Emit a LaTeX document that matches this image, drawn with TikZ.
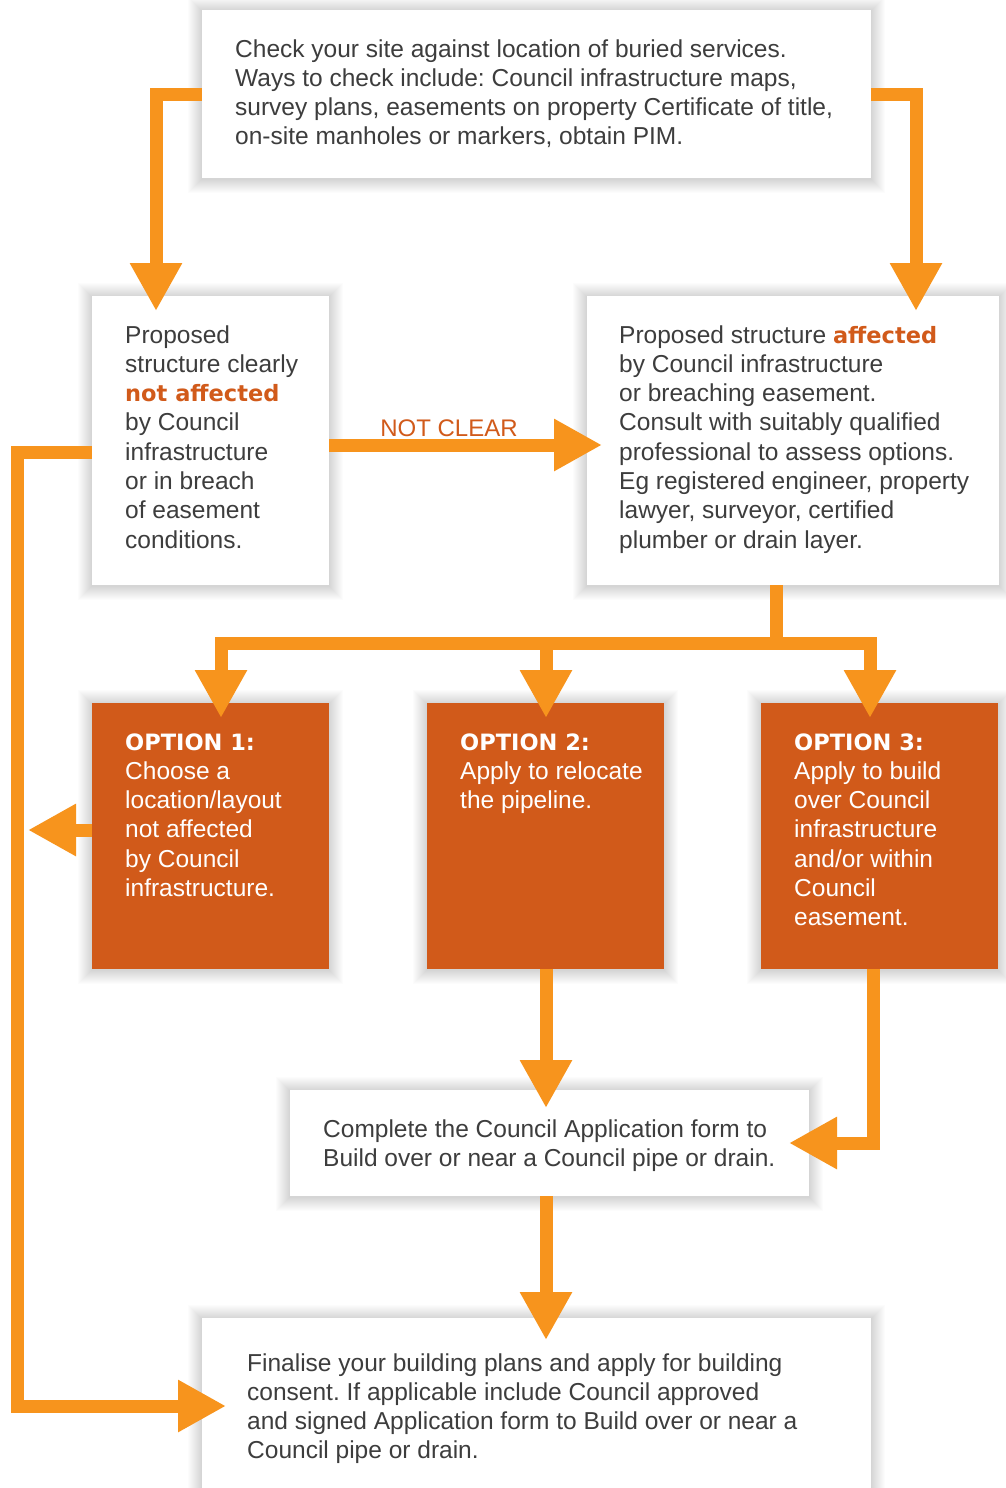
\documentclass[tikz,border=0pt]{standalone}
\usepackage{fontspec}
\setmainfont{Liberation Sans}
\newfontfamily\heavyfont{DejaVu Sans}
\usetikzlibrary{arrows.meta,fit}
\definecolor{arrowor}{HTML}{F7941D}
\definecolor{boxor}{HTML}{D15A1A}
\definecolor{txtgray}{HTML}{3D3D3D}
\frenchspacing
\newcommand\bodyfont{\fontsize{24.5}{29.3}\selectfont}
\newcommand\hv[1]{{\heavyfont\bfseries\fontsize{22.5}{29.3}\selectfont #1}}
\newcommand\shadowrect[4]{\foreach \k in {1,...,14}{\fill[black,opacity=0.011] ({#1-\k},{#2-\k+1}) rectangle ({#3+\k},{#4+\k+1});}}
\begin{document}
\begin{tikzpicture}[x=1pt,y=-1pt,
  wbox/.style={fill=white,inner sep=0pt,draw=none},
  obox/.style={fill=boxor,inner sep=0pt,draw=none},
  txt/.style={anchor=base west,align=left,inner sep=0pt,text=txtgray,font=\bodyfont},
  otxt/.style={txt,text=white},
  arr/.style={draw=arrowor,line width=13pt,-{Triangle[length=48pt,width=49pt]}},
  seg/.style={draw=arrowor,line width=13pt},
]
\useasboundingbox[fill=white] (0,0) rectangle (1006,1488);

% boxes
\shadowrect{202}{10}{871}{178}
\node[wbox,fit={(202,10)(871,178)}] (A) {};
\shadowrect{92}{296}{329}{585}
\node[wbox,fit={(92,296)(329,585)}] (B) {};
\shadowrect{587}{296}{999}{585}
\node[wbox,fit={(587,296)(999,585)}] (C) {};
\shadowrect{92}{703}{329}{969}
\node[obox,fit={(92,703)(329,969)}] (O1) {};
\shadowrect{427}{703}{664}{969}
\node[obox,fit={(427,703)(664,969)}] (O2) {};
\shadowrect{761}{703}{998}{969}
\node[obox,fit={(761,703)(998,969)}] (O3) {};
\shadowrect{290}{1090}{809}{1196}
\node[wbox,fit={(290,1090)(809,1196)}] (D) {};
\shadowrect{202}{1318}{871}{1510}
\node[wbox,fit={(202,1318)(871,1510)}] (E) {};

% texts (base anchor = baseline of last line)
\node[txt] (At) at (235,144.9) {Check your site against location of buried services.\\Ways to check include: Council infrastructure maps,\\survey plans, easements on property Certificate of title,\\on-site manholes or markers, obtain PIM.};
\node[txt] (Bt) at (125,548.1) {Proposed\\structure clearly\\\textcolor{boxor}{\hv{not affected}}\\by Council\\infrastructure\\or in breach\\of easement\\conditions.};
\node[txt] (Ct) at (619,548.1) {Proposed structure \textcolor{boxor}{\hv{affected}}\\by Council infrastructure\\or breaching easement.\\Consult with suitably qualified\\professional to assess options.\\Eg registered engineer, property\\lawyer, surveyor, certified\\plumber or drain layer.};
\node[otxt] (O1t) at (125,896.5) {\hv{OPTION 1:}\\Choose a\\location/layout\\not affected\\by Council\\infrastructure.};
\node[otxt] (O2t) at (460,808.6) {\hv{OPTION 2:}\\Apply to relocate\\the pipeline.};
\node[otxt] (O3t) at (794,925.8) {\hv{OPTION 3:}\\Apply to build\\over Council\\infrastructure\\and/or within\\Council\\easement.};
\node[txt] (Dt) at (323,1166.3) {Complete the Council Application form to\\Build over or near a Council pipe or drain.};
\node[txt] (Et) at (247,1458.9) {Finalise your building plans and apply for building\\consent. If applicable include Council approved\\and signed Application form to Build over or near a\\Council pipe or drain.};

% connector end points
\coordinate (tB) at (156,311);
\coordinate (tC) at (916,311);
\coordinate (tNC) at (602,445);
\coordinate (split) at (776,643);
\coordinate (t1) at (221,718);
\coordinate (t2) at (546,718);
\coordinate (t3) at (870,718);
\coordinate (tL) at (28,830);
\coordinate (tD2) at (546,1108);
\coordinate (tD3) at (789,1143);
\coordinate (tE) at (546,1340);
\coordinate (tEL) at (226,1406);

% connectors
\draw[arr] (A.west |- 0,94) -| (tB);
\draw[arr] (A.east |- 0,94) -| (tC);
\draw[arr] (B.east |- tNC) -- (tNC);
\node[anchor=base,inner sep=0pt,text=boxor,font=\fontsize{24}{29}\selectfont] (nc) at (449,436) {NOT CLEAR};
\draw[seg] (C.south -| split) -- ([yshift=-6.5pt]split);
\draw[arr] (split) -| (t1);
\draw[arr] (split) -| (t3);
\draw[arr] (t2 |- split) -- (t2);
\draw[arr] (O1.west |- tL) -- (tL);
\draw[arr] (B.west |- 0,452) -- (17,452) |- (tEL);
\draw[arr] (O2.south -| tD2) -- (tD2);
\draw[arr] (O3.south -| 873,0) |- (tD3);
\draw[arr] (D.south -| tE) -- (tE);
\end{tikzpicture}
\end{document}
